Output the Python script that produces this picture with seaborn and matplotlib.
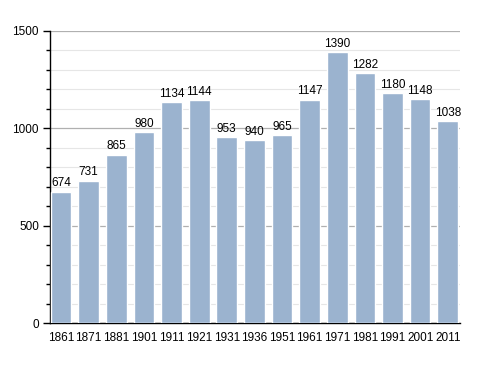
import numpy as np
import pandas as pd
import matplotlib
matplotlib.use('Agg')
import matplotlib.pyplot as plt
import seaborn as sns
from matplotlib.ticker import MultipleLocator

years = ['1861', '1871', '1881', '1901', '1911', '1921', '1931', '1936',
         '1951', '1961', '1971', '1981', '1991', '2001', '2011']
population = [674, 731, 865, 980, 1134, 1144, 953, 940,
              965, 1147, 1390, 1282, 1180, 1148, 1038]

df = pd.DataFrame({'year': years, 'pop': population})

sns.set_style('white')
plt.rcParams['font.family'] = ['Liberation Sans', 'DejaVu Sans']
plt.rcParams['text.color'] = 'black'
plt.rcParams['xtick.color'] = 'black'
plt.rcParams['ytick.color'] = 'black'

fig = plt.figure(figsize=(4.88, 3.73), dpi=100)
ax = fig.add_axes([0.1025, 0.134, 0.8405, 0.783])

sns.barplot(data=df, x='year', y='pop', color='#9bb3cf', saturation=1,
            width=0.75, ax=ax, zorder=3)

ax.set_ylim(0, 1500)
ax.set_xlim(-0.4, 14.45)
ax.yaxis.set_major_locator(MultipleLocator(500))
ax.yaxis.set_minor_locator(MultipleLocator(100))
ax.grid(which='major', axis='y', color='#b0b0b0', lw=0.9, zorder=0)
ax.grid(which='minor', axis='y', color='#e6e6e6', lw=0.8, zorder=0)
ax.set_axisbelow(True)

for i, v in enumerate(population):
    ax.text(i, v + 12, str(v), ha='center', va='bottom', fontsize=8.5,
            color='black', zorder=4)

for s in ['top', 'right']:
    ax.spines[s].set_visible(False)
for s in ['left', 'bottom']:
    ax.spines[s].set_color('black')
    ax.spines[s].set_linewidth(1)

ax.tick_params(axis='y', which='major', left=True, length=5, width=1,
               labelsize=8.5, pad=3, labelcolor='black')
ax.tick_params(axis='y', which='minor', left=True, length=3, width=1)
ax.tick_params(axis='x', bottom=False, labelsize=8.5, pad=3, labelcolor='black')
ax.set_xlabel('')
ax.set_ylabel('')

fig.savefig('out.png', dpi=100)
